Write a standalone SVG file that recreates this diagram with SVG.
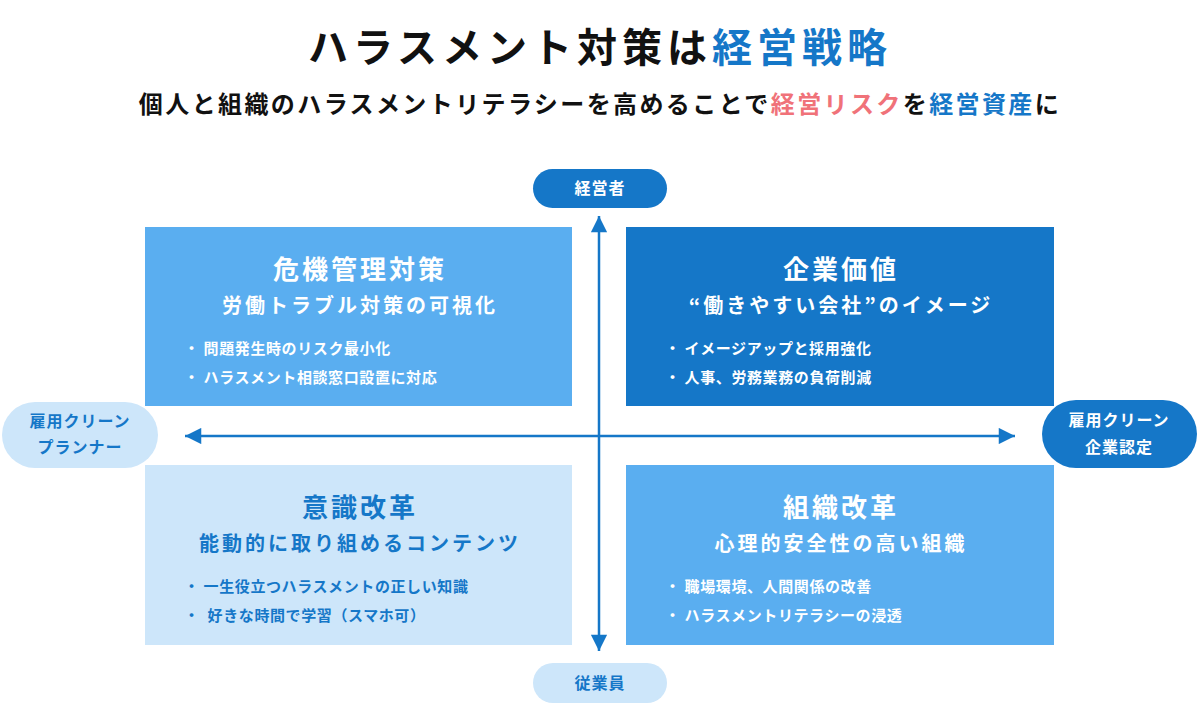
<svg xmlns="http://www.w3.org/2000/svg" width="1200" height="709" viewBox="0 0 1200 709">
<defs>
<style>
text{font-family:"Noto Sans CJK JP","Noto Sans CJK SC",sans-serif;font-weight:700;}
.title{font-size:40px;letter-spacing:5px;fill:#111;}
.sub{font-size:24px;letter-spacing:2.4px;fill:#111;}
.blue{fill:#1577C8;}
.red{fill:#F07279;}
.qt{font-size:26px;letter-spacing:3px;text-anchor:middle;}
.qs{font-size:20px;letter-spacing:3px;text-anchor:middle;}
.qb{font-size:15px;letter-spacing:0.6px;}
.w{fill:#fff;}
.d{fill:#1577C8;}
.pill{font-size:16px;letter-spacing:1px;text-anchor:middle;}
.axis{stroke:#1577C8;stroke-width:2.5;fill:none;}
</style>
<marker id="ah" viewBox="0 0 10 10" refX="10" refY="5" markerWidth="7" markerHeight="6.5" markerUnits="strokeWidth" orient="auto-start-reverse">
<path d="M0,0 L10,5 L0,10 z" fill="#1577C8"/>
</marker>
</defs>
<rect width="1200" height="709" fill="#fff"/>

<g id="heading">
<text class="title" x="600" y="62" text-anchor="middle">ハラスメント対策は<tspan class="blue">経営戦略</tspan></text>
<text class="sub" x="600" y="113" text-anchor="middle">個人と組織のハラスメントリテラシーを高めることで<tspan class="red">経営リスク</tspan>を<tspan class="blue">経営資産</tspan>に</text>
</g>

<g id="q-tl">
<rect x="145" y="227" width="427" height="179" fill="#5AAEF0"/>
<text class="qt w" x="360" y="279">危機管理対策</text>
<text class="qs w" x="360" y="313">労働トラブル対策の可視化</text>
<text class="qb w" x="184" y="354">・ 問題発生時のリスク最小化</text>
<text class="qb w" x="184" y="383">・ ハラスメント相談窓口設置に対応</text>
</g>

<g id="q-tr">
<rect x="626" y="227" width="428" height="179" fill="#1577C8"/>
<text class="qt w" x="841" y="279">企業価値</text>
<text class="qs w" x="841" y="313">“働きやすい会社”のイメージ</text>
<text class="qb w" x="665" y="354">・ イメージアップと採用強化</text>
<text class="qb w" x="665" y="383">・ 人事、労務業務の負荷削減</text>
</g>

<g id="q-bl">
<rect x="145" y="465" width="427" height="180" fill="#CDE6FA"/>
<text class="qt d" x="360" y="517">意識改革</text>
<text class="qs d" x="360" y="551">能動的に取り組めるコンテンツ</text>
<text class="qb d" x="184" y="592">・ 一生役立つハラスメントの正しい知識</text>
<text class="qb d" x="184" y="621">・&#160;&#160;好きな時間で学習（スマホ可）</text>
</g>

<g id="q-br">
<rect x="626" y="465" width="428" height="180" fill="#5AAEF0"/>
<text class="qt w" x="841" y="517">組織改革</text>
<text class="qs w" x="841" y="551">心理的安全性の高い組織</text>
<text class="qb w" x="665" y="592">・ 職場環境、人間関係の改善</text>
<text class="qb w" x="665" y="621">・ ハラスメントリテラシーの浸透</text>
</g>

<g id="connectors">
<line class="axis" x1="599" y1="651" x2="599" y2="216" marker-start="url(#ah)" marker-end="url(#ah)"/>
<line class="axis" x1="185" y1="436" x2="1015" y2="436" marker-start="url(#ah)" marker-end="url(#ah)"/>
</g>

<g id="p-top">
<rect x="533" y="169" width="134" height="39" rx="19.5" fill="#1577C8"/>
<text class="pill w" x="600" y="194">経営者</text>
</g>

<g id="p-bottom">
<rect x="533" y="663" width="134" height="40" rx="20" fill="#CDE6FA"/>
<text class="pill d" x="600" y="689">従業員</text>
</g>

<g id="p-left">
<rect x="2" y="402" width="156" height="66" rx="33" fill="#CDE6FA"/>
<text class="pill d" x="80" y="427">雇用クリーン</text>
<text class="pill d" x="80" y="453">プランナー</text>
</g>

<g id="p-right">
<rect x="1042" y="400" width="155" height="68" rx="34" fill="#1577C8"/>
<text class="pill w" x="1119" y="426">雇用クリーン</text>
<text class="pill w" x="1119" y="453">企業認定</text>
</g>
</svg>
